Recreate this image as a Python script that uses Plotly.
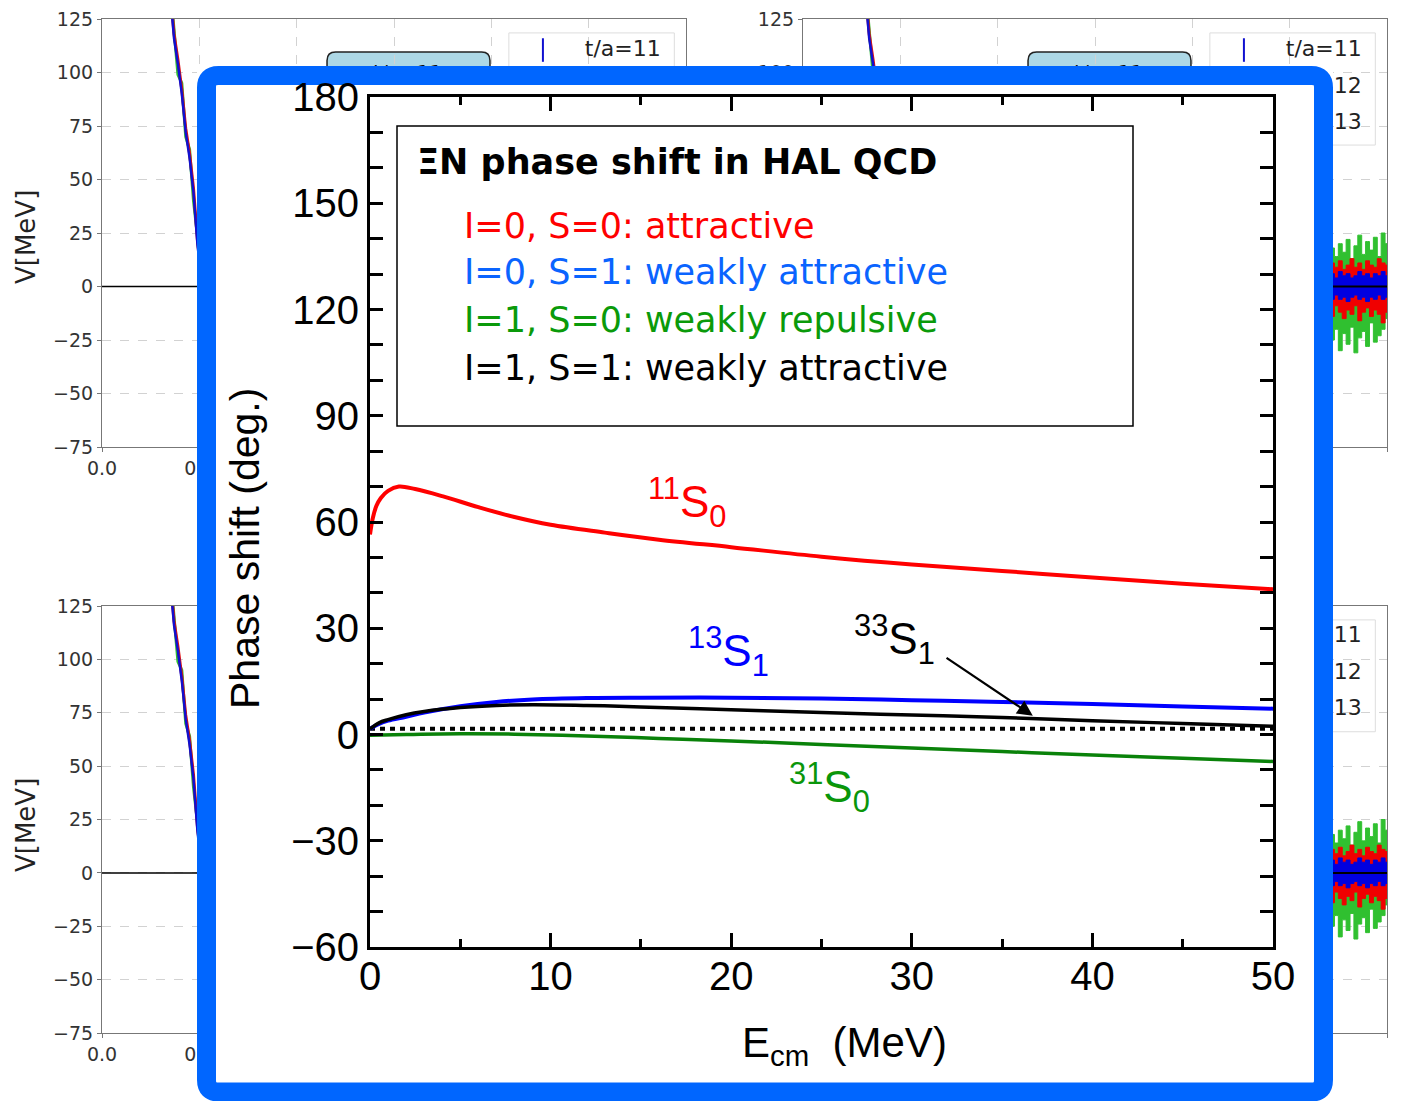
import plotly.graph_objects as go

W, H = 1402, 1101

# ---------------- phase shifts, E_cm in MeV, delta in degrees ----------------
e_11s0 = [0, 0.15, 0.35, 0.6, 1.0, 1.6, 2.5, 4, 6, 8, 10, 13, 16, 20, 25, 30, 35, 40, 45, 50]
d_11s0 = [56.5, 61.0, 64.5, 66.8, 68.8, 70.0, 69.3, 67.3, 64.2, 61.4, 59.2, 57.0, 55.0, 52.9, 50.2, 48.0, 46.2, 44.3, 42.6, 41.0]

e_13s1 = [0, 0.5, 1, 2, 3, 5, 7, 9, 12, 15, 20, 25, 30, 35, 40, 45, 50]
d_13s1 = [1.6, 3.0, 3.9, 5.0, 6.2, 8.0, 9.2, 9.9, 10.3, 10.4, 10.4, 10.2, 9.7, 9.2, 8.6, 7.9, 7.3]

e_33s1 = [0, 0.5, 1, 2, 3, 5, 7, 9, 12, 15, 20, 25, 30, 35, 40, 45, 50]
d_33s1 = [1.6, 3.3, 4.2, 5.6, 6.5, 7.6, 8.2, 8.4, 8.2, 7.8, 7.0, 6.2, 5.5, 4.8, 3.9, 3.1, 2.3]

e_31s0 = [0, 2, 5, 8, 12, 16, 20, 25, 30, 35, 40, 45, 50]
d_31s0 = [-0.2, 0.0, 0.2, 0.1, -0.4, -1.1, -1.8, -2.8, -3.8, -4.8, -5.8, -6.7, -7.6]

e_base = [0, 50]
d_base = [1.6, 1.6]

# ---------------- potentials V(r) shown in the panels behind ----------------
r_core = [0.33, 0.35, 0.37, 0.39, 0.41, 0.43, 0.45, 0.47, 0.49, 0.51, 0.55]
r_core_tr = [0.30, 0.32, 0.34, 0.36, 0.38, 0.40, 0.42, 0.44, 0.46, 0.48, 0.52]
v_core_red = [160, 138, 118, 106, 92, 74, 62, 46, 22, 5, -15]
v_core_blue = [158, 135, 116, 104, 90, 72, 60, 44, 20, 3, -16]
v_core_green = [162, 140, 121, 99, 95, 70, 64, 40, 24, 2, -14]

r_tail = [2.70, 2.72, 2.74, 2.76, 2.78, 2.80, 2.82, 2.84, 2.86, 2.88, 2.90, 2.92, 2.94, 2.96, 2.98, 3.00]
v_green_hi = [12, 18, 14, 20, 16, 22, 13, 19, 24, 15, 21, 17, 23, 14, 25, 20]
v_green_lo = [-18, -25, -20, -30, -22, -27, -19, -31, -24, -21, -28, -17, -26, -23, -20, -15]
v_red_hi = [8, 11, 9, 12, 8, 10, 13, 9, 11, 8, 12, 10, 9, 13, 11, 10]
v_red_lo = [-10, -14, -9, -12, -15, -11, -13, -9, -16, -12, -10, -14, -11, -13, -17, -12]
v_blue_hi = [5, 6, 4, 7, 5, 6, 4, 5, 7, 5, 6, 4, 6, 5, 7, 5]
v_blue_lo = [-5, -6, -4, -6, -5, -7, -5, -4, -6, -5, -7, -5, -6, -4, -6, -5]

legend_labels = ["t/a=11", "t/a=12", "t/a=13"]
legend_colors = ["#1010d0", "#e01010", "#30c030"]
legend_v = [110.5, 93.2, 76.4]

panel_xticks = [0.0, 0.5, 1.0, 1.5, 2.0, 2.5, 3.0]
panel_yticks = [-75, -50, -25, 0, 25, 50, 75, 100, 125]

main_xticks = [0, 10, 20, 30, 40, 50]
main_yticks = [-60, -30, 0, 30, 60, 90, 120, 150, 180]


def xd(px):
    return px / W


def yd(py):
    return 1 - py / H


fig = go.Figure()

# panel order: top-left, top-right, bottom-left, bottom-right
panels = [
    ("x", "y", (102, 686), (19, 447), r_core),
    ("x2", "y2", (803, 1387), (19, 447), r_core_tr),
    ("x3", "y3", (102, 686), (606, 1033), r_core),
    ("x4", "y4", (803, 1387), (606, 1033), r_core),
]

for xa, ya, _, _, rc in panels:
    # zero reference
    fig.add_trace(go.Scatter(x=[0, 3], y=[0, 0], xaxis=xa, yaxis=ya, mode="lines",
                             line=dict(color="black", width=1.5), hoverinfo="skip"))
    # short-range core, one line per time slice
    for vals, col, w in [(v_core_green, "#30c030", 3), (v_core_red, "#e01010", 3),
                         (v_core_blue, "#1010d0", 2.5)]:
        fig.add_trace(go.Scatter(x=rc, y=vals, xaxis=xa, yaxis=ya, mode="lines",
                                 line=dict(color=col, width=w), hoverinfo="skip"))
    # noisy tail, drawn as error envelopes
    for hi, lo, col in [(v_green_hi, v_green_lo, "#30c030"), (v_red_hi, v_red_lo, "#f00000"),
                        (v_blue_hi, v_blue_lo, "#0000e0")]:
        fig.add_trace(go.Scatter(x=r_tail + r_tail[::-1], y=hi + lo[::-1], xaxis=xa, yaxis=ya,
                                 mode="lines", fill="toself", fillcolor=col,
                                 line=dict(color=col, width=1, shape="hvh"), hoverinfo="skip"))
    fig.add_trace(go.Scatter(x=[2.68, 3.0], y=[0, 0], xaxis=xa, yaxis=ya, mode="lines",
                             line=dict(color="black", width=2), hoverinfo="skip"))
    # legend entries
    for lab, col, v in zip(legend_labels, legend_colors, legend_v):
        fig.add_trace(go.Scatter(x=[2.265, 2.265], y=[v - 5.5, v + 5.5], xaxis=xa, yaxis=ya,
                                 mode="lines", line=dict(color=col, width=2), hoverinfo="skip"))
        fig.add_trace(go.Scatter(x=[2.48], y=[v], xaxis=xa, yaxis=ya, mode="text", text=[lab],
                                 textposition="middle right",
                                 textfont=dict(family="DejaVu Sans", size=22, color="#222"),
                                 hoverinfo="skip"))
    # title box text
    fig.add_trace(go.Scatter(x=[1.57], y=[99.5], xaxis=xa, yaxis=ya, mode="text", text=["t/a=11"],
                             textposition="middle center",
                             textfont=dict(family="DejaVu Sans", size=20, color="#111"),
                             hoverinfo="skip"))

# frame holder subplot (pixel units)
fig.add_trace(go.Scatter(x=[600], y=[600], xaxis="x5", yaxis="y5", mode="markers",
                         marker=dict(opacity=0), hoverinfo="skip"))

# ---------------- main phase-shift plot ----------------
fig.add_trace(go.Scatter(x=e_base, y=d_base, xaxis="x6", yaxis="y6", mode="lines",
                         line=dict(color="black", width=4, dash="5px,5px"), hoverinfo="skip"))
fig.add_trace(go.Scatter(x=e_31s0, y=d_31s0, xaxis="x6", yaxis="y6", mode="lines",
                         line=dict(color="#0a820a", width=3.5, shape="spline"), name="31S0"))
fig.add_trace(go.Scatter(x=e_13s1, y=d_13s1, xaxis="x6", yaxis="y6", mode="lines",
                         line=dict(color="#0000ff", width=4, shape="spline"), name="13S1"))
fig.add_trace(go.Scatter(x=e_33s1, y=d_33s1, xaxis="x6", yaxis="y6", mode="lines",
                         line=dict(color="black", width=3.5, shape="spline"), name="33S1"))
fig.add_trace(go.Scatter(x=e_11s0, y=d_11s0, xaxis="x6", yaxis="y6", mode="lines",
                         line=dict(color="#ff0000", width=4, shape="spline"), name="11S0"))

panel_axis = dict(showgrid=True, gridcolor="#d2d2d2", griddash="dash", gridwidth=1,
                  zeroline=False, showline=True, mirror=True, linecolor="#777", linewidth=1.2,
                  ticks="outside", ticklen=4, tickcolor="#777", automargin=False,
                  tickfont=dict(family="DejaVu Sans", size=19, color="#333"))

layout = dict(template="none", width=W, height=H,
              margin=dict(l=0, r=0, t=0, b=0, pad=0, autoexpand=False),
              paper_bgcolor="white", plot_bgcolor="white", showlegend=False)

for i, (xa, ya, (px0, px1), (py0, py1), _) in enumerate(panels):
    sfx = "" if i == 0 else str(i + 1)
    xa_d = dict(panel_axis, domain=[xd(px0), xd(px1)], range=[0, 3], tickvals=panel_xticks,
                tickformat=".1f", anchor=ya)
    ya_d = dict(panel_axis, domain=[yd(py1), yd(py0)], range=[-75, 125], tickvals=panel_yticks,
                anchor=xa)
    layout["xaxis" + sfx] = xa_d
    layout["yaxis" + sfx] = ya_d

layout["xaxis5"] = dict(domain=[xd(197), xd(1333)], range=[197, 1333], visible=False,
                        anchor="y5", automargin=False)
layout["yaxis5"] = dict(domain=[yd(1101), yd(66)], range=[1101, 66], visible=False,
                        anchor="x5", automargin=False)

main_font = dict(family="Liberation Sans, Arial, sans-serif", size=40, color="black")
layout["xaxis6"] = dict(domain=[xd(370), xd(1273)], range=[0, 50], anchor="y6",
                        tickvals=main_xticks, ticks="inside", ticklen=14, tickwidth=2.5,
                        tickcolor="black", showline=True, linecolor="black", linewidth=3,
                        mirror="allticks", showgrid=False, zeroline=False, tickfont=main_font,
                        automargin=False, ticklabelstandoff=-8,
                        minor=dict(dtick=5, ticks="inside", ticklen=8, tickwidth=2.5,
                                   tickcolor="black", showgrid=False))
layout["yaxis6"] = dict(domain=[yd(947), yd(97)], range=[-60, 180], anchor="x6",
                        tickvals=main_yticks, ticks="inside", ticklen=13, tickwidth=2.5,
                        tickcolor="black", showline=True, linecolor="black", linewidth=3,
                        mirror="allticks", showgrid=False, zeroline=False, tickfont=main_font,
                        automargin=False,
                        minor=dict(dtick=10, ticks="inside", ticklen=13, tickwidth=2.5,
                                   tickcolor="black", showgrid=False))

fig.update_layout(**layout)

# light-blue title boxes and legend frames in the background panels
for xa, ya, *_ in panels:
    fig.add_shape(type="path", xref=xa, yref=ya, layer="below",
                  path="M 1.20,109.6 L 1.95,109.6 Q 1.993,109.6 1.993,105.6 L 1.993,93 "
                       "Q 1.993,89 1.95,89 L 1.20,89 Q 1.156,89 1.156,93 L 1.156,105.6 "
                       "Q 1.156,109.6 1.20,109.6 Z",
                  fillcolor="#add8e6", line=dict(color="#222", width=1.5))
    fig.add_shape(type="rect", xref=xa, yref=ya, layer="below",
                  x0=2.09, x1=2.94, y0=66.1, y1=118.5,
                  fillcolor="rgba(255,255,255,0.8)", line=dict(color="#dddddd", width=1))

# blue rounded frame with white interior
fig.add_shape(type="path", xref="x5", yref="y5", layer="below",
              path="M 218.5,75.5 L 1311.5,75.5 Q 1323.5,75.5 1323.5,87.5 L 1323.5,1080 "
                   "Q 1323.5,1092 1311.5,1092 L 218.5,1092 Q 206.5,1092 206.5,1080 "
                   "L 206.5,87.5 Q 206.5,75.5 218.5,75.5 Z",
              fillcolor="white", line=dict(color="#0066ff", width=19))

# legend box of the main plot
fig.add_shape(type="rect", xref="paper", yref="paper", layer="above",
              x0=xd(397), x1=xd(1133), y0=yd(426), y1=yd(126),
              line=dict(color="black", width=1.5), fillcolor="rgba(0,0,0,0)")

ann = []
ann.append(dict(x=xd(415), y=yd(162), xref="paper", yref="paper", xanchor="left",
                yanchor="middle", showarrow=False, text="<b>ΞN phase shift in HAL QCD</b>",
                font=dict(family="DejaVu Sans", size=35, color="black")))
legend_lines = [("I=0, S=0: attractive", "#ff0000", 226),
                ("I=0, S=1: weakly attractive", "#0a64ff", 272),
                ("I=1, S=0: weakly repulsive", "#0a9a0a", 320),
                ("I=1, S=1: weakly attractive", "black", 368)]
for txt, col, py in legend_lines:
    ann.append(dict(x=xd(462), y=yd(py), xref="paper", yref="paper", xanchor="left",
                    yanchor="middle", showarrow=False, text=txt,
                    font=dict(family="DejaVu Sans", size=35, color=col)))

lab_font = "Liberation Sans, Arial, sans-serif"
curve_labels = [("<sup>11</sup>S<sub>0</sub>", "#ff0000", 15.3, 65.5),
                ("<sup>13</sup>S<sub>1</sub>", "#0000ff", 17.5, 23.4),
                ("<sup>33</sup>S<sub>1</sub>", "black", 26.7, 26.8),
                ("<sup>31</sup>S<sub>0</sub>", "#0a960a", 23.1, -15.1)]
for txt, col, ex, dy in curve_labels:
    ann.append(dict(x=ex, y=dy, xref="x6", yref="y6", xanchor="left", yanchor="middle",
                    showarrow=False, text=txt, font=dict(family=lab_font, size=44, color=col)))

ann.append(dict(x=36.7, y=5.3, xref="x6", yref="y6", ax=31.84, ay=21.9, axref="x6",
                ayref="y6", text="", showarrow=True, arrowhead=2, arrowsize=1.4,
                arrowwidth=2.2, arrowcolor="black"))

ann.append(dict(x=xd(245), y=yd(548), xref="paper", yref="paper", textangle=-90,
                xanchor="center", yanchor="middle", showarrow=False, text="Phase shift (deg.)",
                font=dict(family=lab_font, size=41, color="black")))
ann.append(dict(x=xd(845), y=yd(1045), xref="paper", yref="paper", xanchor="center",
                yanchor="middle", showarrow=False, text="E<sub>cm</sub>  (MeV)",
                font=dict(family=lab_font, size=42, color="black")))

for py in (237, 825):
    ann.append(dict(x=xd(26), y=yd(py), xref="paper", yref="paper", textangle=-90,
                    xanchor="center", yanchor="middle", showarrow=False, text="V[MeV]",
                    font=dict(family="DejaVu Sans", size=26, color="#222")))

fig.update_layout(annotations=ann)

fig.write_html("out.html")
